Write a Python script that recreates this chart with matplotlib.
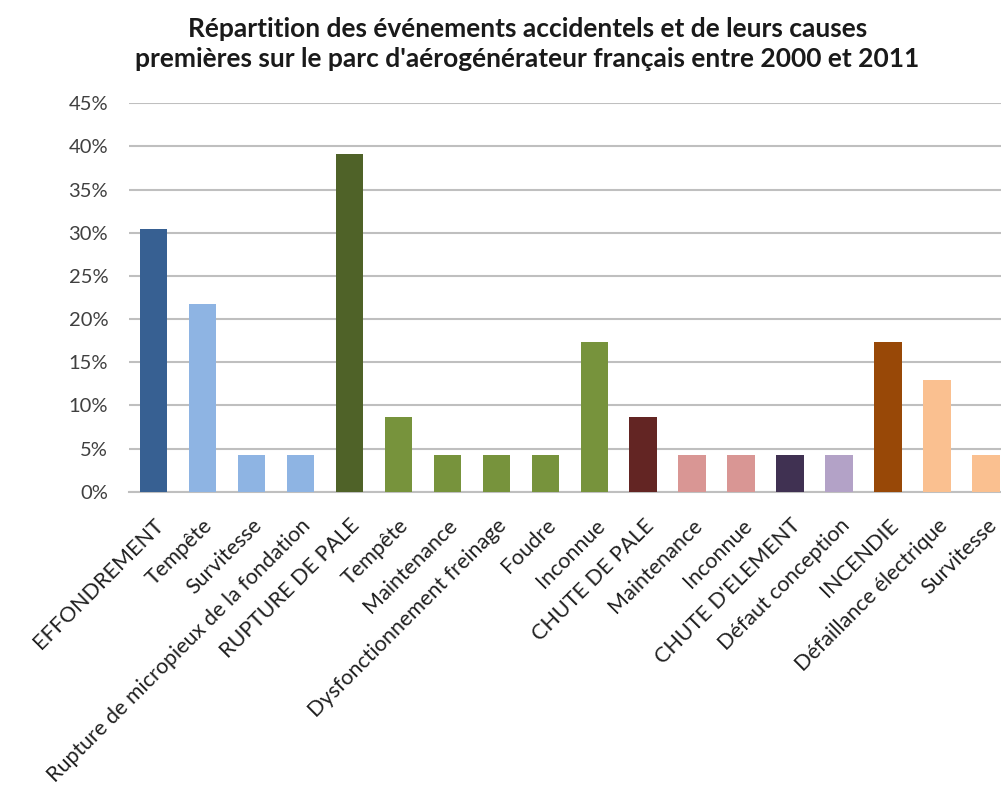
import matplotlib
matplotlib.use("Agg")
import matplotlib.pyplot as plt
from matplotlib.ticker import PercentFormatter

# données (part des événements, en %)
categories = ["EFFONDREMENT", "Tempête", "Survitesse",
              "Rupture de micropieux de la fondation", "RUPTURE DE PALE",
              "Tempête", "Maintenance", "Dysfonctionnement freinage", "Foudre",
              "Inconnue", "CHUTE DE PALE", "Maintenance", "Inconnue",
              "CHUTE D'ELEMENT", "Défaut conception", "INCENDIE",
              "Défaillance électrique", "Survitesse"]
values = [30.4, 21.7, 4.3, 4.3, 39.1, 8.7, 4.3, 4.3, 4.3,
          17.4, 8.7, 4.3, 4.3, 4.3, 4.3, 17.4, 13.0, 4.3]
bar_colors = ["#376092", "#8EB4E3", "#8EB4E3", "#8EB4E3", "#4F6228",
              "#77933C", "#77933C", "#77933C", "#77933C", "#77933C",
              "#632523", "#D99694", "#D99694", "#403152", "#B3A2C7",
              "#984807", "#FAC090", "#FAC090"]
yticks = [0, 5, 10, 15, 20, 25, 30, 35, 40, 45]

plt.rcParams['font.family'] = ['Lato', 'DejaVu Sans']

fig = plt.figure(figsize=(10.01, 7.87), dpi=100)
ax = fig.add_axes([0.1289, 0.3752, 0.881, 0.4935])

x = range(len(values))
ax.bar(x, values, width=0.57, color=bar_colors, zorder=3)

ax.set_xlim(-0.5, len(values) - 0.5)
ax.set_ylim(0, 45)
ax.set_yticks(yticks)
ax.yaxis.set_major_formatter(PercentFormatter(decimals=0))
ax.grid(axis='y', color='#BFBFBF', linewidth=1.5, zorder=0)
ax.set_axisbelow(True)

for s in ['top', 'right', 'left']:
    ax.spines[s].set_visible(False)
ax.spines['bottom'].set_color('#BFBFBF')
ax.spines['bottom'].set_linewidth(1.5)

ax.tick_params(axis='y', length=0, pad=15, labelsize=14.5, labelcolor='#404040')
ax.tick_params(axis='x', length=0, pad=17)
ax.set_xticks(list(x))
ax.set_xticklabels(categories, rotation=45, ha='right', va='top',
                   rotation_mode='anchor', fontsize=15.5, color='#202020')

fig.text(0.527, 0.979, "Répartition des événements accidentels et de leurs causes\n"
         "premières sur le parc d'aérogénérateur français entre 2000 et 2011",
         ha='center', va='top', fontsize=19, fontweight='bold',
         color='#1a1a1a', linespacing=1.3)

fig.savefig("out.png", dpi=100)
